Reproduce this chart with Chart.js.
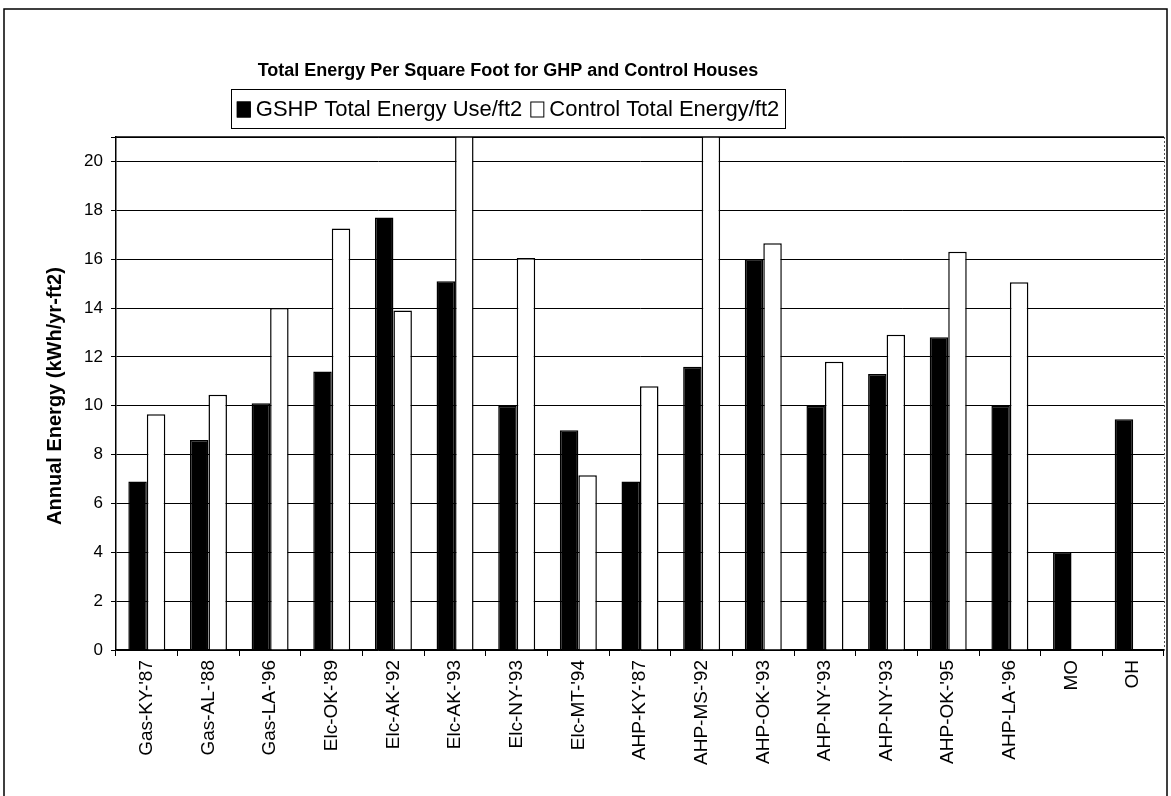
<!DOCTYPE html>
<html>
<head>
<meta charset="utf-8">
<script src="https://cdn.jsdelivr.net/npm/chart.js@4.4.1/dist/chart.umd.min.js"></script>
<style>
    html, body { margin: 0; padding: 0; background: #fff; }
    #chart { display: block; }
</style>
</head>
<body>
<canvas id="chart" width="1171" height="796"></canvas>
<script>
// ── Data ────────────────────────────────────────────────────

const categories = [
    "Gas-KY-'87", "Gas-AL-'88", "Gas-LA-'96", "Elc-OK-'89", "Elc-AK-'92",
    "Elc-AK-'93", "Elc-NY-'93", "Elc-MT-'94", "AHP-KY-'87", "AHP-MS-'92",
    "AHP-OK-'93", "AHP-NY-'93", "AHP-NY-'93", "AHP-OK-'95", "AHP-LA-'96",
    "MO", "OH"
];

const gshpValues = [6.9, 8.6, 10.1, 11.4, 17.7, 15.1, 10.0, 9.0, 6.9, 11.6, 16.0, 10.0, 11.3, 12.8, 10.0, 4.0, 9.45];

// two control bars run off the top of the axis (value above 21, exact value not readable)
const controlValues = [9.65, 10.45, 14.0, 17.25, 13.9, 22, 16.05, 7.15, 10.8, 22, 16.65, 11.8, 12.9, 16.3, 15.05, null, null];

const seriesNames = ['GSHP Total Energy Use/ft2', 'Control Total Energy/ft2'];
const yTicks      = [0, 2, 4, 6, 8, 10, 12, 14, 16, 18, 20];
const yMax        = 21;

const chartTitle = 'Total Energy Per Square Foot for GHP and Control Houses';
const yTitle     = 'Annual Energy (kWh/yr-ft2)';

const FONT = "'Liberation Sans', Arial, Helvetica, sans-serif";

// ── Title, boxed legend, y title and frame ──────────────────

const headerPlugin = {
    id: 'header',
    beforeDraw(chart) {
        const { ctx } = chart;
        ctx.save();
        ctx.fillStyle = '#fff';
        ctx.fillRect(0, 0, chart.width, chart.height);
        ctx.strokeStyle = '#000';
        ctx.lineWidth = 1.5;
        ctx.strokeRect(4, 9, chart.width - 8, chart.height + 20);
        ctx.restore();
    },
    afterDraw(chart) {
        const { ctx, chartArea } = chart;
        const cx = 508;
        ctx.save();

        // plot frame
        ctx.strokeStyle = '#000';
        ctx.lineWidth = 1.5;
        ctx.beginPath();
        ctx.moveTo(chartArea.left, chartArea.top);
        ctx.lineTo(chartArea.right, chartArea.top);
        ctx.stroke();
        ctx.setLineDash([2, 2]);
        ctx.strokeStyle = '#555';
        ctx.lineWidth = 1;
        ctx.beginPath();
        ctx.moveTo(chartArea.right + 0.5, chartArea.top);
        ctx.lineTo(chartArea.right + 0.5, chartArea.bottom);
        ctx.stroke();
        ctx.setLineDash([]);

        // title
        ctx.fillStyle = '#000';
        ctx.font = `bold 18px ${FONT}`;
        ctx.textAlign = 'center';
        ctx.textBaseline = 'middle';
        ctx.fillText(chartTitle, cx, 71);

        // y axis title
        ctx.save();
        ctx.translate(55, 396);
        ctx.rotate(-Math.PI / 2);
        ctx.font = `bold 20px ${FONT}`;
        ctx.fillText(yTitle, 0, 0);
        ctx.restore();

        // legend
        ctx.font = `22px ${FONT}`;
        ctx.textAlign = 'left';
        const sw = 14, gap = 5, itemGap = 8, padX = 6;
        const items = chart.data.datasets.map(ds => ({
            label: ds.label, fill: ds.backgroundColor, w: ctx.measureText(ds.label).width
        }));
        let total = padX * 2;
        items.forEach((it, i) => { total += sw + gap + it.w + (i ? itemGap : 0); });
        const boxTop = 89, boxH = 39;
        let x = cx - total / 2;
        ctx.lineWidth = 1;
        ctx.strokeStyle = '#000';
        ctx.strokeRect(Math.round(x) + 0.5, boxTop + 0.5, Math.round(total), boxH);
        x += padX;
        const midY = boxTop + boxH / 2 + 1;
        items.forEach((it, i) => {
            if (i) x += itemGap;
            ctx.fillStyle = it.fill;
            ctx.fillRect(x, midY - 8, sw, 16);
            ctx.strokeRect(x + 0.5, midY - 7.5, sw - 1, 15);
            x += sw + gap;
            ctx.fillStyle = '#000';
            ctx.fillText(it.label, x, midY);
            x += it.w;
        });

        ctx.restore();
    }
};

// ── Chart ───────────────────────────────────────────────────

new Chart(document.getElementById('chart'), {
    type: 'bar',
    data: {
        labels: categories,
        datasets: [
            {
                label: seriesNames[0],
                data: gshpValues,
                backgroundColor: '#000',
                borderColor: '#000',
                borderWidth: 1.5,
            },
            {
                label: seriesNames[1],
                data: controlValues,
                backgroundColor: '#fff',
                borderColor: '#000',
                borderWidth: 1.5,
            },
        ],
    },
    plugins: [headerPlugin],
    options: {
        responsive: false,
        animation: false,
        categoryPercentage: 0.6,
        barPercentage: 1.0,
        layout: { padding: { top: 137, right: 7, left: 0, bottom: 0 } },
        plugins: {
            legend: { display: false },
            title: { display: false },
            tooltip: { enabled: false },
        },
        scales: {
            x: {
                offset: true,
                grid: {
                    drawOnChartArea: false,
                    drawTicks: true,
                    tickLength: 6,
                    color: '#000',
                    offset: true,
                },
                border: { display: true, color: '#000', width: 1.5 },
                ticks: {
                    autoSkip: false,
                    maxRotation: 90,
                    minRotation: 90,
                    padding: 4,
                    color: '#000',
                    font: { family: FONT, size: 19 },
                },
                afterFit: s => { s.height = 146; },
            },
            y: {
                min: 0,
                max: yMax,
                grid: {
                    color: '#000',
                    lineWidth: 1,
                    tickLength: 5,
                },
                border: { display: true, color: '#000', width: 1.5 },
                ticks: {
                    stepSize: 2,
                    padding: 8,
                    color: '#000',
                    font: { family: FONT, size: 17 },
                    callback: v => yTicks.includes(v) ? v : '',
                },
                afterFit: s => { s.width = 116; },
            },
        },
    },
});
</script>
</body>
</html>
